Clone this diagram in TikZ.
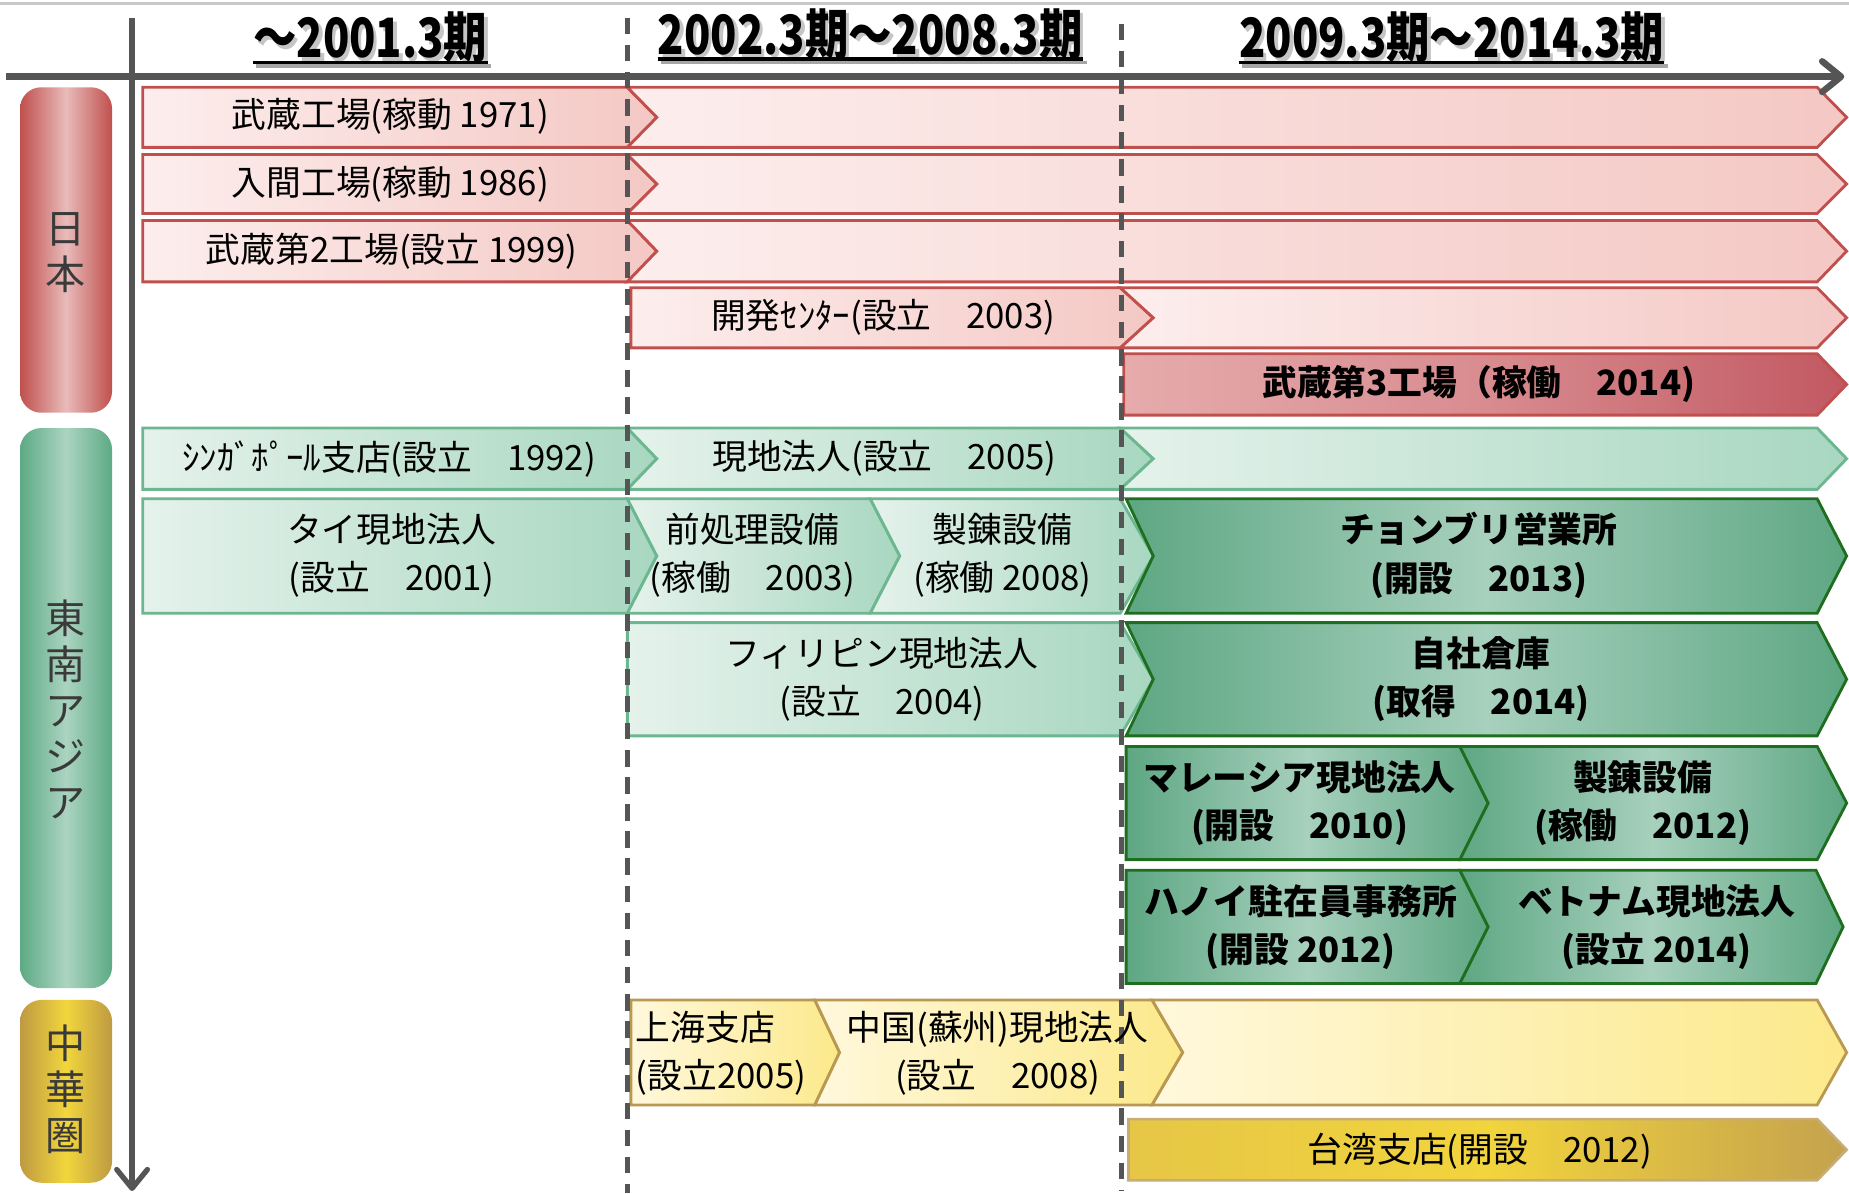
\documentclass[tikz,border=0pt]{standalone}
\usepackage{fontspec}
\setmainfont{Noto Sans CJK JP}
\newfontfamily\titlefont[FakeStretch=0.8]{Noto Sans CJK JP}
\usetikzlibrary{arrows.meta}
\definecolor{axgray}{HTML}{555555}
\definecolor{topgray}{HTML}{C8C8C8}
\definecolor{vgray}{HTML}{3A3A3A}
\definecolor{redline}{HTML}{C0504D}
\definecolor{lredA}{HTML}{FCEEED}
\definecolor{lredB}{HTML}{F4C8C4}
\definecolor{dredA}{HTML}{E6ABAC}
\definecolor{dredM}{HTML}{D88C90}
\definecolor{dredB}{HTML}{C25862}
\definecolor{lgrnA}{HTML}{E5F2EC}
\definecolor{lgrnB}{HTML}{A8D7C0}
\definecolor{grnline}{HTML}{6CB690}
\definecolor{dgrnA}{HTML}{5EA783}
\definecolor{dgrnM}{HTML}{A7D0BD}
\definecolor{dgrnline}{HTML}{1F6E1F}
\definecolor{lyelA}{HTML}{FFF8DC}
\definecolor{lyelB}{HTML}{FCE98A}
\definecolor{yelline}{HTML}{B99852}
\definecolor{goldA}{HTML}{E6C646}
\definecolor{goldM}{HTML}{F2D43C}
\definecolor{goldB}{HTML}{C4A24E}
\definecolor{pillred}{HTML}{C0504D}
\definecolor{pillredM}{HTML}{E8BBBA}
\definecolor{pillgrn}{HTML}{5DAA84}
\definecolor{pillgrnM}{HTML}{ABD4C1}
\definecolor{pillgold}{HTML}{BE9A42}
\definecolor{pillgoldM}{HTML}{F2D63D}
\newcommand\chev[7]{\path[#1] (#2,#4) -- (#3,#4) -- ({#3+#6},{(#4+#5)/2}) -- (#3,#5) -- (#2,#5) -- ({#2+#7},{(#4+#5)/2}) -- cycle;}
\begin{document}
\begin{tikzpicture}[x=1pt,y=-1pt,
  lred/.style={draw=redline,line width=2.4pt,left color=lredA,right color=lredB},
  dred/.style={draw=redline,line width=2.4pt,left color=dredA,right color=dredB,middle color=dredM},
  lgrn/.style={draw=grnline,line width=2.4pt,left color=lgrnA,right color=lgrnB},
  dgrn/.style={draw=dgrnline,line width=2.4pt,left color=dgrnA,right color=dgrnA,middle color=dgrnM},
  lyel/.style={draw=yelline,line width=2.4pt,left color=lyelA,right color=lyelB},
  gold/.style={draw=yelline!80,line width=2.2pt,left color=goldA,right color=goldB,middle color=goldM},
  pillR/.style={rounded corners=18pt,left color=pillred,right color=pillred,middle color=pillredM},
  pillG/.style={rounded corners=18pt,left color=pillgrn,right color=pillgrn,middle color=pillgrnM},
  pillY/.style={rounded corners=18pt,left color=pillgold,right color=pillgold,middle color=pillgoldM},
  txt/.style={font=\fontsize{29.5}{41}\selectfont,inner sep=0pt,align=center,text=black},
  btxt/.style={font=\fontsize{29.5}{41}\selectfont\bfseries,inner sep=0pt,align=center,text=black},
  ttl/.style={font=\titlefont\fontsize{46}{46}\selectfont\bfseries,inner sep=0pt,anchor=base},
  vlab/.style={font=\fontsize{34}{39}\selectfont,inner sep=0pt,align=center,text=vgray},
  dashln/.style={draw=axgray,line width=3.8pt,dash pattern=on 14pt off 9pt},
  axisln/.style={draw=axgray,line width=6.5pt},
  uline/.style={line width=3pt}]
\useasboundingbox (0,0) rectangle (1568,1012.5);
% top thin line
\coordinate (tl0) at (0,3);
\coordinate (tl1) at (1568,3);
\draw[topgray,line width=2.2pt] (tl0) -- (tl1);
% pills
\path[pillR] (17,74) rectangle (95,350);
\path[pillG] (17,363) rectangle (95,838);
\path[pillY] (17,848) rectangle (95,1003);
\node[vlab] (pj) at (56,214) {日\\本};
\node[vlab] (ps) at (56,602) {東\\南\\ア\\ジ\\ア};
\node[vlab] (pc) at (56,924) {中\\華\\圏};
% Japan rows
\chev{lred}{121}{532}{74}{125}{25}{0}
\chev{lred}{532}{1541}{74}{125}{25}{25}
\chev{lred}{121}{532}{131}{181}{25}{0}
\chev{lred}{532}{1541}{131}{181}{25}{25}
\chev{lred}{121}{532}{187}{239}{25}{0}
\chev{lred}{532}{1541}{187}{239}{25}{25}
\chev{lred}{535}{950}{244}{295}{28}{0}
\chev{lred}{950}{1541}{244}{295}{25}{28}
\chev{dred}{953}{1541}{300}{352}{25}{0}
% SE Asia rows
\chev{lgrn}{121}{532}{363}{415}{25}{0}
\chev{lgrn}{532}{950}{363}{415}{28}{25}
\chev{lgrn}{950}{1541}{363}{415}{25}{28}
\chev{lgrn}{121}{532}{423}{520}{25}{0}
\chev{lgrn}{532}{738}{423}{520}{25}{25}
\chev{lgrn}{738}{950}{423}{520}{28}{25}
\chev{dgrn}{955}{1541}{423}{520}{25}{23}
\chev{lgrn}{532}{950}{528}{624}{28}{0}
\chev{dgrn}{955}{1541}{528}{624}{25}{23}
\chev{dgrn}{955}{1238}{633}{729}{24}{0}
\chev{dgrn}{1238}{1541}{633}{729}{25}{24}
\chev{dgrn}{955}{1238}{738}{834}{24}{0}
\chev{dgrn}{1238}{1540}{738}{834}{23}{24}
% China rows
\chev{lyel}{535}{691}{848}{937}{21}{0}
\chev{lyel}{691}{977}{848}{937}{26}{21}
\chev{lyel}{977}{1541}{848}{937}{25}{26}
\chev{gold}{957}{1541}{949}{1001}{25}{0}
% axes
\coordinate (hx0) at (5,65);
\coordinate (hx1) at (1564,65);
\draw[axisln,-{Straight Barb[length=16pt,width=26pt,line width=5.5pt,round]}] (hx0) -- (hx1);
\coordinate (vx0) at (112,15);
\coordinate (vx1) at (112,1010);
\draw[draw=axgray,line width=4.6pt,-{Straight Barb[length=16pt,width=26pt,line width=4.5pt,round]}] (vx0) -- (vx1);
% dashed period separators
\coordinate (d1a) at (532,15);
\coordinate (d1b) at (532,1012);
\coordinate (d2a) at (951,20);
\coordinate (d2b) at (951,1010);
\draw[dashln] (d1a) -- (d1b);
\draw[dashln] (d2a) -- (d2b);
% titles
\node[ttl,text=black!45,opacity=0.5] (t1s) at (317,52) {～2001.3期};
\node[ttl,text=black!45,opacity=0.5] (t2s) at (741,49) {2002.3期～2008.3期};
\node[ttl,text=black!45,opacity=0.5] (t3s) at (1234,52) {2009.3期～2014.3期};
\node[ttl] (t1) at (314,49) {～2001.3期};
\node[ttl] (t2) at (738,46) {2002.3期～2008.3期};
\node[ttl] (t3) at (1231,49) {2009.3期～2014.3期};
\draw[uline,black!35] ([xshift=3pt,yshift=-7pt]t1.base west) -- ([xshift=3pt,yshift=-7pt]t1.base east);
\draw[uline,black!35] ([xshift=3pt,yshift=-7pt]t2.base west) -- ([xshift=3pt,yshift=-7pt]t2.base east);
\draw[uline,black!35] ([xshift=3pt,yshift=-7pt]t3.base west) -- ([xshift=3pt,yshift=-7pt]t3.base east);
\draw[uline] ([yshift=-4pt]t1.base west) -- ([yshift=-4pt]t1.base east);
\draw[uline] ([yshift=-4pt]t2.base west) -- ([yshift=-4pt]t2.base east);
\draw[uline] ([yshift=-4pt]t3.base west) -- ([yshift=-4pt]t3.base east);
% box texts
\node[txt] (a1) at (331,99) {武蔵工場(稼動 1971)};
\node[txt] (a2) at (331,156) {入間工場(稼動 1986)};
\node[txt] (a3) at (332,213) {武蔵第2工場(設立 1999)};
\node[txt] (a4) at (749,269) {開発ｾﾝﾀｰ(設立　2003)};
\node[btxt] (a5) at (1254,326) {武蔵第3工場（稼働　2014)};
\node[txt] (b1) at (330,389) {ｼﾝｶﾞﾎﾟｰﾙ支店(設立　1992)};
\node[txt] (b2) at (750,389) {現地法人(設立　2005)};
\node[txt] (b3) at (332,471) {タイ現地法人\\(設立　2001)};
\node[txt] (b4) at (638,471) {前処理設備\\(稼働　2003)};
\node[txt] (b5) at (850,471) {製錬設備\\(稼働 2008)};
\node[btxt] (b6) at (1254,471) {チョンブリ営業所\\(開設　2013)};
\node[txt] (b7) at (748,576) {フィリピン現地法人\\(設立　2004)};
\node[btxt] (b8) at (1256,576) {自社倉庫\\(取得　2014)};
\node[btxt] (b9) at (1102,681) {マレーシア現地法人\\(開設　2010)};
\node[btxt] (b10) at (1393,681) {製錬設備\\(稼働　2012)};
\node[btxt] (b11) at (1103,786) {ハノイ駐在員事務所\\(開設 2012)};
\node[btxt] (b12) at (1405,786) {ベトナム現地法人\\(設立 2014)};
\node[txt,align=left,anchor=west] (c1) at (539,893) {上海支店\\(設立2005)};
\node[txt] (c2) at (846,893) {中国(蘇州)現地法人\\(設立　2008)};
\node[txt] (c3) at (1255,976) {台湾支店(開設　2012)};
\end{tikzpicture}
\end{document}
